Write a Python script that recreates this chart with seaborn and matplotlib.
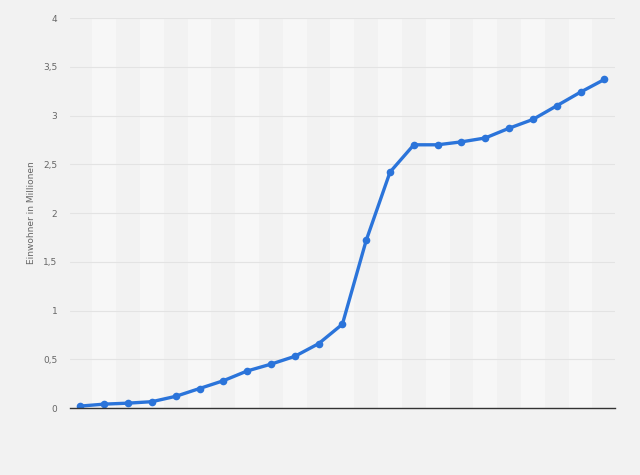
import numpy as np
import pandas as pd
import matplotlib
matplotlib.use("Agg")
import matplotlib.pyplot as plt
import seaborn as sns

# Einwohner in Millionen, one value per period (no x labels in the source)
positions = list(range(23))
einwohner = [0.02, 0.04, 0.05, 0.065, 0.12, 0.20, 0.28, 0.38, 0.45, 0.53,
             0.66, 0.86, 1.72, 2.42, 2.70, 2.70, 2.73, 2.77, 2.87, 2.96,
             3.10, 3.24, 3.37]
y_ticks = [0, 0.5, 1, 1.5, 2, 2.5, 3, 3.5, 4]
y_labels = ["0", "0,5", "1", "1,5", "2", "2,5", "3", "3,5", "4"]

df = pd.DataFrame({"pos": positions, "wert": einwohner})

sns.set_style("white")
plt.rcParams["font.family"] = ["DejaVu Sans"]

fig = plt.figure(figsize=(6.4, 4.75), dpi=100)
fig.patch.set_facecolor("#f2f2f2")
ax = fig.add_axes([0.109, 0.141, 0.852, 0.821])
ax.set_facecolor("#f2f2f2")

# alternating column bands
for p in positions:
    if p % 2 == 1:
        ax.axvspan(p - 0.5, p + 0.5, color="#f7f7f7", zorder=0, lw=0)

for t in y_ticks[1:]:
    ax.axhline(t, color="#e3e3e3", lw=0.8, zorder=1)

sns.lineplot(data=df, x="pos", y="wert", ax=ax, color="#2b74da", lw=2.4,
             marker="o", markersize=5.5, markeredgewidth=0, zorder=3)

ax.set_xlim(-0.45, 22.45)
ax.set_ylim(0, 4)
ax.set_yticks(y_ticks)
ax.set_yticklabels(y_labels, fontsize=6.5, color="#666666")
ax.set_xticks([])
ax.tick_params(axis="y", length=0, pad=9)
ax.set_xlabel("")
ax.set_ylabel("Einwohner in Millionen", fontsize=6.5, color="#666666", labelpad=5)

for s in ["top", "right", "left"]:
    ax.spines[s].set_visible(False)
ax.spines["bottom"].set_color("#333333")
ax.spines["bottom"].set_linewidth(1.0)
ax.spines["bottom"].set_zorder(4)

fig.savefig("out.png", dpi=100, facecolor=fig.get_facecolor())
